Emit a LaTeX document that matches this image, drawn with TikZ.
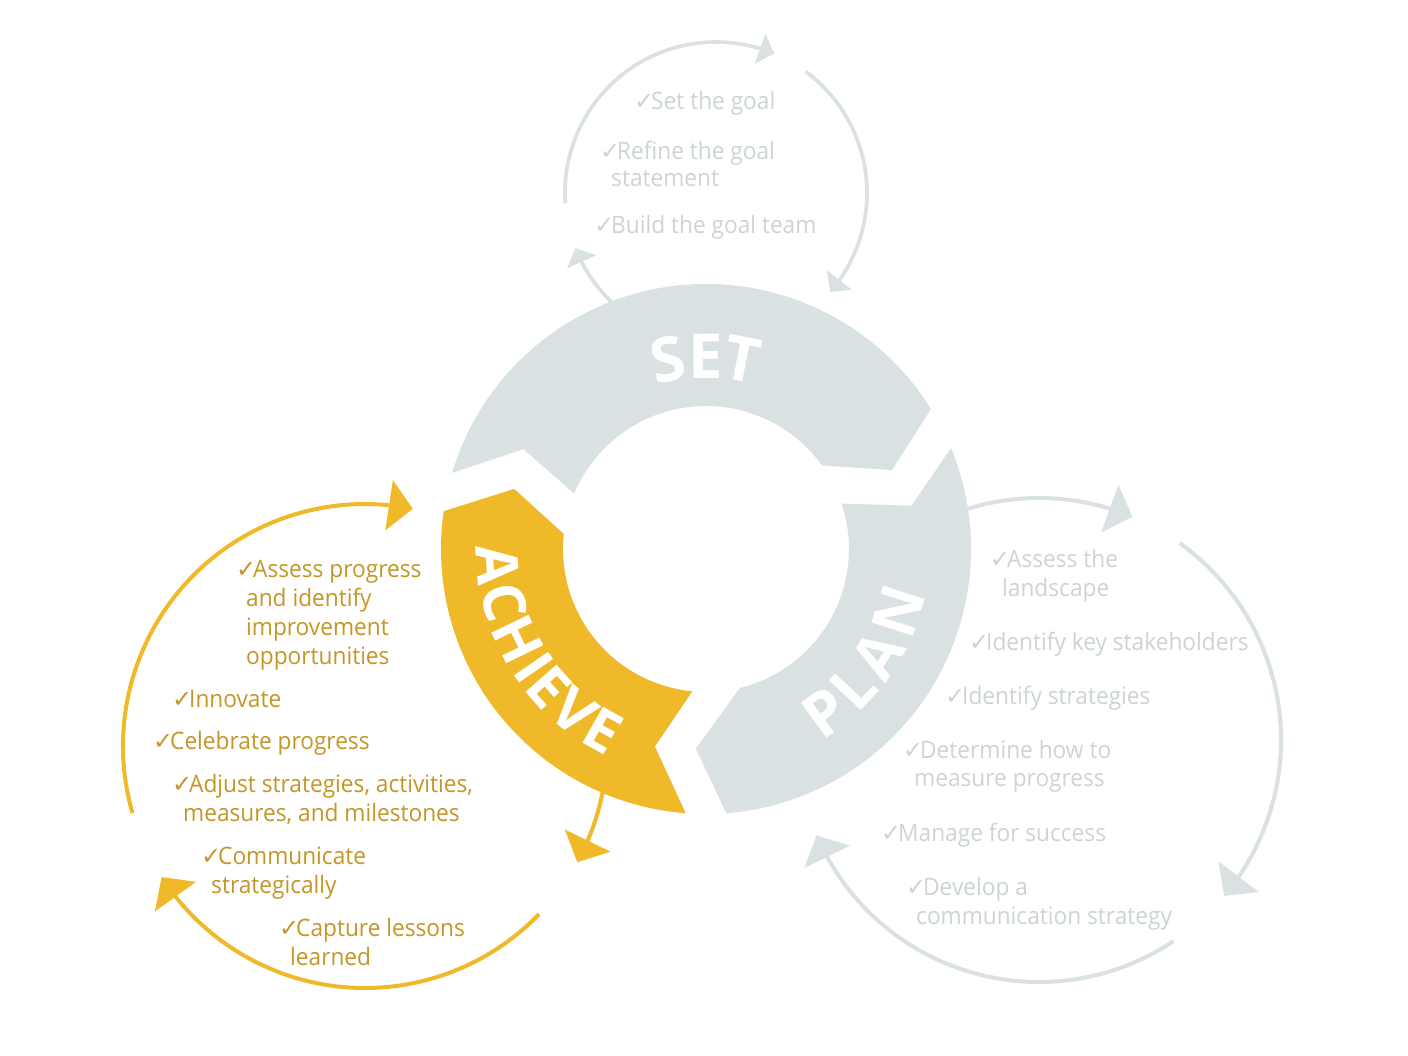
\documentclass[tikz,border=0pt]{standalone}
\usepackage{fontspec}
\usetikzlibrary{arrows.meta,bending}
\setmainfont{Open Sans}
\newfontfamily\listfont{Open Sans}[FakeStretch=0.945]
\newfontfamily\ringfont{Open Sans}
\newfontfamily\symfont{DejaVu Sans}
\definecolor{ringgrey}{RGB}{217,225,227}
\definecolor{linegrey}{RGB}{217,225,227}
\definecolor{txtgrey}{RGB}{204,212,215}
\definecolor{gold}{RGB}{240,185,42}
\definecolor{txtgold}{RGB}{196,150,38}
\newcommand{\ck}{\makebox[17pt][l]{\symfont\fontsize{24}{24}\selectfont ✓}}
\begin{document}
\begin{tikzpicture}[x=1pt,y=1pt,
  cycgrey/.style={draw=linegrey,line width=4pt},
  cycgold/.style={draw=gold,line width=4pt},
  bigtip/.style={-{Triangle[length=24pt,width=50pt,flex]}},
  smalltip/.style={-{Triangle[length=15pt,width=31pt,flex]}},
  item/.style={anchor=base west,inner sep=0pt,
    font=\listfont\fontsize{24}{29}\selectfont},
  greyitem/.style={item,text=txtgrey},
  golditem/.style={item,text=txtgold},
  ringletter/.style={text=white,inner sep=0pt,
    font=\ringfont\bfseries\fontsize{#1}{#1}\selectfont},
]
\useasboundingbox (0,0) rectangle (1408,-1056);
\fill[white] (0,0) rectangle (1408,-1056);

% centres of the ring and of the three small cycles
\coordinate (ring) at (706,-549);
\coordinate (cs) at (716,-193);
\coordinate (cp) at (1039,-740);
\coordinate (ca) at (365,-746);

% SET cycle
\draw[cycgrey,line width=3.6pt,smalltip] ([shift={(228:151pt)}]cs) arc[start angle=228,end angle=201.4,radius=151pt];
\draw[cycgrey,line width=3.6pt,smalltip] ([shift={(183.9:151pt)}]cs) arc[start angle=183.9,end angle=67.3,radius=151pt];
\draw[cycgrey,line width=3.6pt,smalltip] ([shift={(53.7:151pt)}]cs) arc[start angle=53.7,end angle=-40.9,radius=151pt];

% PLAN cycle
\draw[cycgrey,bigtip] ([shift={(108.5:242pt)}]cp) arc[start angle=108.5,end angle=67.3,radius=242pt];
\draw[cycgrey,bigtip] ([shift={(54.4:242pt)}]cp) arc[start angle=54.4,end angle=-40.1,radius=242pt];
\draw[cycgrey,bigtip] ([shift={(-56.3:242pt)}]cp) arc[start angle=-56.3,end angle=-156.8,radius=242pt];

% ACHIEVE cycle
\draw[cycgold,bigtip] ([shift={(196.1:242pt)}]ca) arc[start angle=196.1,end angle=78.6,radius=242pt];
\draw[cycgold,bigtip] ([shift={(-8:242pt)}]ca) arc[start angle=-8,end angle=-28.7,radius=242pt];
\draw[cycgold,bigtip] ([shift={(-44:242pt)}]ca) arc[start angle=-44,end angle=-147.2,radius=242pt];

% the ring of three arrow segments
\begin{scope}[shift={(706,-549)}]
  \fill[ringgrey] (163.3:265pt) arc[start angle=163.3,end angle=31.9,radius=265pt]
    -- (23:202pt) -- (35.8:143pt) arc[start angle=35.8,end angle=157.2,radius=143pt]
    -- (151.3:208pt) -- cycle;
  \fill[ringgrey] (22.4:265pt) arc[start angle=22.4,end angle=-85.6,radius=265pt]
    -- (-92.9:200pt) -- (-76.3:143pt) arc[start angle=-76.3,end angle=18.5,radius=143pt]
    -- (11.9:210pt) -- cycle;
  \fill[gold] (-94.4:265pt) arc[start angle=-94.4,end angle=-188.2,radius=265pt]
    -- (-197.4:201pt) -- (-186:143pt) arc[start angle=-186,end angle=-95.5,radius=143pt]
    -- (-104.5:204pt) -- cycle;

  \foreach \ch/\ang/\nm in {S/101.3/setS,E/90.2/setE,T/79/setT}
    \node[ringletter=62,rotate=\ang-90] (\nm) at (\ang:193pt) {\ch};
  \foreach \ch/\ang/\nm in {P/-54/planP,L/-43/planL,A/-31.7/planA,N/-18/planN}
    \node[ringletter=61,rotate=\ang+90] (\nm) at (\ang:202pt) {\ch};
  \foreach \ch/\ang/\nm in {A/184.3/achA,C/194.8/achC,H/205.8/achH,I/214.5/achI,E/221.4/achE,V/230.8/achV,E/240.3/achEE}
    \node[ringletter=58,rotate=\ang+90] (\nm) at (\ang:209pt) {\ch};
\end{scope}

% SET steps
\node[greyitem] (s1) at (634,-110) {\ck Set the goal};
\node[greyitem] (s2) at (600,-160) {\ck Refine the goal};
\node[greyitem] (s2b) at (611,-187) {statement};
\node[greyitem] (s3) at (594,-234) {\ck Build the goal team};

% PLAN steps
\node[greyitem] (p1) at (990,-567) {\ck Assess the};
\node[greyitem] (p1b) at (1002,-596) {landscape};
\node[greyitem] (p2) at (969,-650) {\ck Identify key stakeholders};
\node[greyitem] (p3) at (945,-704) {\ck Identify strategies};
\node[greyitem] (p4) at (903,-758) {\ck Determine how to};
\node[greyitem] (p4b) at (914,-786) {measure progress};
\node[greyitem] (p5) at (881,-841) {\ck Manage for success};
\node[greyitem] (p6) at (906,-895) {\ck Develop a};
\node[greyitem] (p6b) at (916,-924) {communication strategy};

% ACHIEVE steps
\node[golditem] (a1) at (236,-577) {\ck Assess progress};
\node[golditem] (a1b) at (246,-606) {and identify};
\node[golditem] (a1c) at (246,-635) {improvement};
\node[golditem] (a1d) at (246,-664) {opportunities};
\node[golditem] (a2) at (172,-707) {\ck Innovate};
\node[golditem] (a3) at (153,-749) {\ck Celebrate progress};
\node[golditem] (a4) at (172,-792) {\ck Adjust strategies, activities,};
\node[golditem] (a4b) at (183,-821) {measures, and milestones};
\node[golditem] (a5) at (201,-864) {\ck Communicate};
\node[golditem] (a5b) at (211,-893) {strategically};
\node[golditem] (a6) at (279,-936) {\ck Capture lessons};
\node[golditem] (a6b) at (290,-965) {learned};
\end{tikzpicture}
\end{document}
